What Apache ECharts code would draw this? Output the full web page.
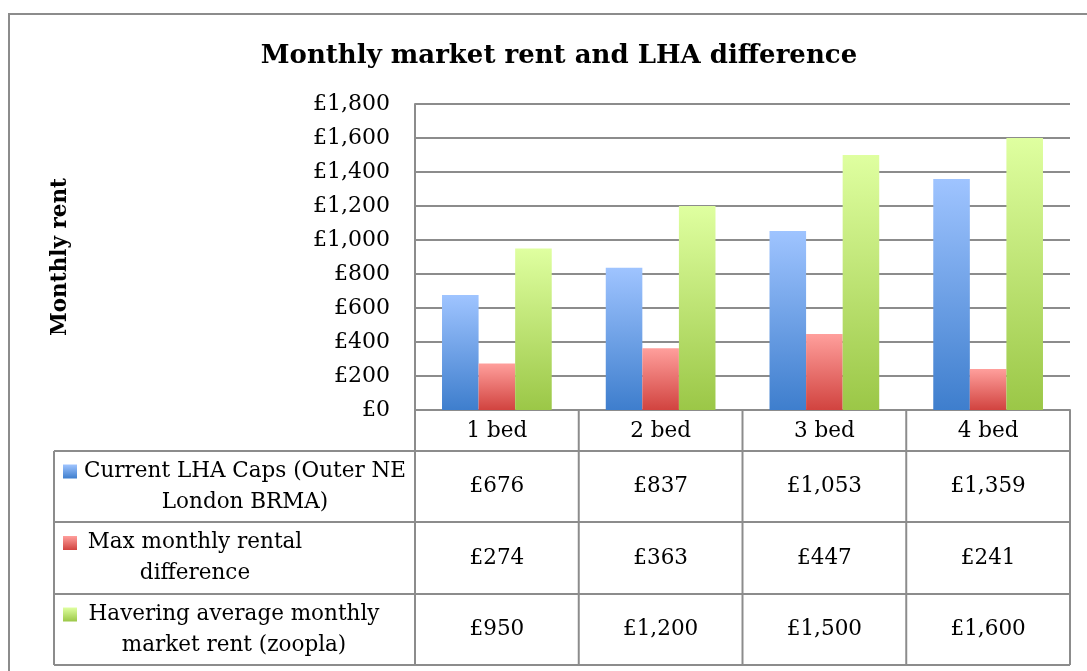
<!DOCTYPE html>
<html>
<head>
<meta charset="utf-8">
<script src="https://cdn.jsdelivr.net/npm/echarts@6/dist/echarts.min.js"></script>
<style>
  html, body { margin: 0; padding: 0; background: #fff; }
  #main { width: 1087px; height: 671px; }
</style>
</head>
<body>
<div id="main"></div>
<script>
// data
var categories = ['1 bed', '2 bed', '3 bed', '4 bed'];
var seriesNames = [
  ['Current LHA Caps (Outer NE', 'London BRMA)'],
  ['Max monthly rental', 'difference'],
  ['Havering average monthly', 'market rent (zoopla)']
];
var lhaCaps = [676, 837, 1053, 1359];
var rentalDiff = [274, 363, 447, 241];
var marketRent = [950, 1200, 1500, 1600];
var yTicks = [0, 200, 400, 600, 800, 1000, 1200, 1400, 1600, 1800];

var FONT = 'DejaVu Serif';
var GRID = '#8c8c8c';
var FS = 21.5;

function pound(v) {
  return '£' + v.toLocaleString('en-GB');
}
function grad(top, bottom) {
  return new echarts.graphic.LinearGradient(0, 0, 0, 1, [
    { offset: 0, color: top },
    { offset: 1, color: bottom }
  ]);
}

var myChart = echarts.init(document.getElementById('main'));

var colors = [
  ['#9fc4ff', '#3e7ecd'],
  ['#ff9f9c', '#d1433f'],
  ['#dfffa0', '#9bc747']
];
var allData = [lhaCaps, rentalDiff, marketRent];

var series = allData.map(function (d, i) {
  return {
    name: seriesNames[i].join(' '),
    type: 'bar',
    data: d,
    barGap: '0%',
    barCategoryGap: '33%',
    itemStyle: {
      color: grad(colors[i][0], colors[i][1]),
      shadowColor: 'rgba(0,0,0,0.3)',
      shadowBlur: 5,
      shadowOffsetX: 2,
      shadowOffsetY: 2
    }
  };
});

var option = {
  animation: false,
  title: {
    text: 'Monthly market rent and LHA difference',
    left: 554,
    textAlign: 'center',
    top: 38,
    textStyle: { fontFamily: FONT, fontWeight: 'bold', fontSize: 26, color: '#000' }
  },
  grid: { left: 415, right: 17, top: 104, bottom: 261 },
  xAxis: {
    type: 'category',
    data: categories,
    axisLine: { show: true, lineStyle: { color: GRID, width: 2 } },
    axisTick: { show: false },
    axisLabel: { fontFamily: FONT, fontSize: FS, color: '#000', margin: 10 }
  },
  yAxis: {
    type: 'value',
    min: 0,
    max: 1800,
    interval: 200,
    name: 'Monthly rent',
    nameLocation: 'middle',
    nameRotate: 90,
    nameGap: 344,
    nameTextStyle: { fontFamily: FONT, fontWeight: 'bold', fontSize: 21.5, color: '#000' },
    axisLine: { show: true, lineStyle: { color: GRID, width: 2 } },
    axisTick: { show: false },
    splitLine: { lineStyle: { color: GRID, width: 2 } },
    axisLabel: {
      fontFamily: FONT, fontSize: 22, color: '#000', margin: 25,
      formatter: function (v) { return yTicks.indexOf(v) >= 0 ? pound(v) : ''; }
    }
  },
  series: series
};

myChart.setOption(option);

// data table under the plot
var rowTops = [451, 522, 594, 665];
var tableLeft = 54, plotLeft = 415, plotRight = 1070, axisY = 410;
var legendCenters = [245, 195, 234];
var g = [];
var lineStyle = { stroke: GRID, lineWidth: 2 };

// outer border
g.push({ type: 'rect', shape: { x: 9, y: 14, width: 1100, height: 700 }, style: { fill: null, stroke: GRID, lineWidth: 2 }, silent: true });

// horizontal lines
rowTops.forEach(function (y) {
  g.push({ type: 'line', shape: { x1: tableLeft, y1: y, x2: plotRight, y2: y }, style: lineStyle });
});
g.push({ type: 'line', shape: { x1: tableLeft, y1: rowTops[0], x2: tableLeft, y2: rowTops[3] }, style: lineStyle });
// vertical boundaries between categories
var step = (plotRight - plotLeft) / categories.length;
for (var k = 0; k <= categories.length; k++) {
  var x = plotLeft + step * k;
  g.push({ type: 'line', shape: { x1: x, y1: axisY, x2: x, y2: rowTops[3] }, style: lineStyle });
}

// values
allData.forEach(function (d, r) {
  var cy = (rowTops[r] + rowTops[r + 1]) / 2;
  d.forEach(function (v, c) {
    var px = myChart.convertToPixel({ xAxisIndex: 0 }, categories[c]);
    g.push({
      type: 'text', x: px, y: cy,
      style: { text: pound(v), fontFamily: FONT, fontSize: FS, fill: '#000', align: 'center', verticalAlign: 'middle' }
    });
  });
  // legend key + text
  g.push({
    type: 'text', x: legendCenters[r], y: cy,
    style: { text: seriesNames[r].join('\n'), fontFamily: FONT, fontSize: FS, lineHeight: 31, fill: '#000', align: 'center', verticalAlign: 'middle' }
  });
  g.push({
    type: 'rect', shape: { x: 63, y: cy - 22, width: 14, height: 14 },
    style: { fill: grad(colors[r][0], colors[r][1]) }
  });
});

myChart.setOption({ graphic: g });
</script>
</body>
</html>
